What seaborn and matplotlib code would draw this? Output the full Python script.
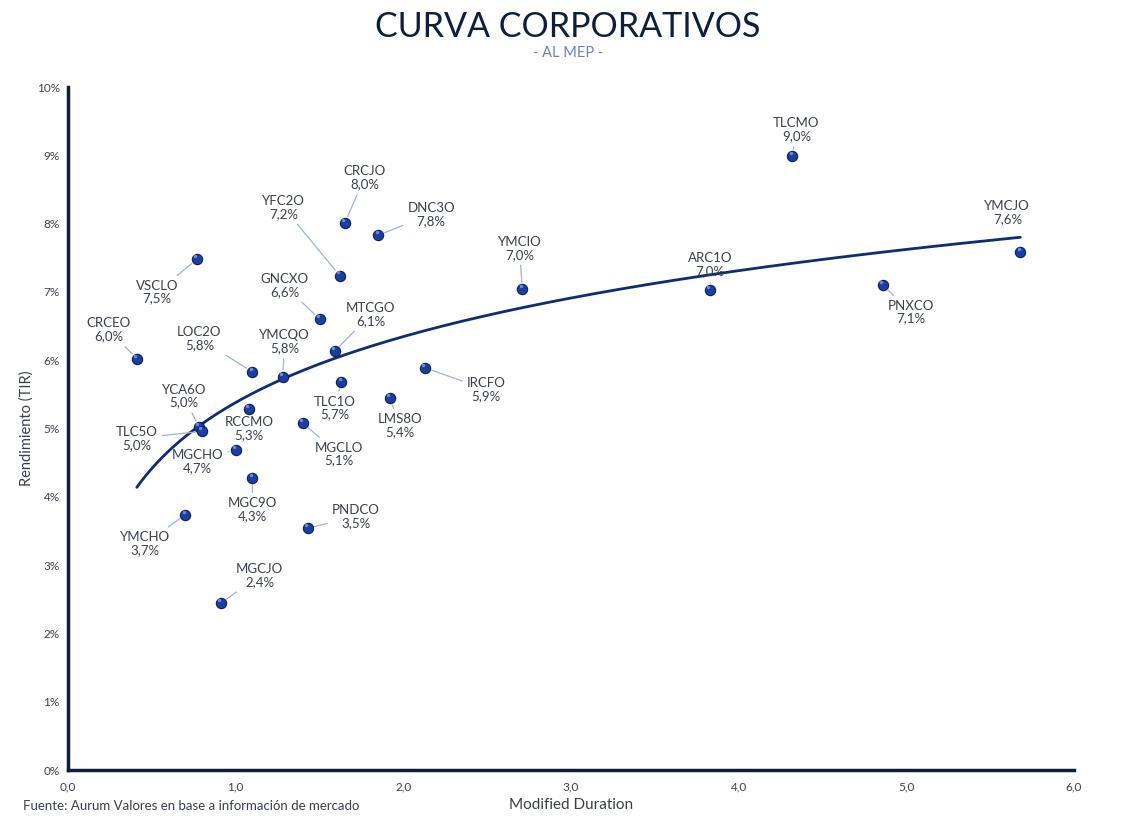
import numpy as np
import pandas as pd
import matplotlib
matplotlib.use("Agg")
import matplotlib.pyplot as plt
import seaborn as sns

# ---- data ----
names = ["TLCMO", "YMCJO", "ARC1O", "PNXCO", "YMCIO", "CRCJO", "DNC3O", "YFC2O",
         "VSCLO", "GNCXO", "MTCGO", "CRCEO", "LOC2O", "YMCQO", "TLC1O", "IRCFO",
         "LMS8O", "RCCMO", "MGCLO", "YCA6O", "TLC5O", "MGCHO", "MGC9O", "YMCHO",
         "PNDCO", "MGCJO"]
duration = [4.32, 5.68, 3.83, 4.86, 2.71, 1.65, 1.85, 1.62,
            0.77, 1.50, 1.59, 0.41, 1.10, 1.28, 1.63, 2.13,
            1.92, 1.08, 1.40, 0.78, 0.80, 1.00, 1.10, 0.70,
            1.43, 0.91]
yields = [8.99, 7.58, 7.03, 7.10, 7.04, 8.01, 7.83, 7.24,
          7.48, 6.60, 6.13, 6.02, 5.83, 5.76, 5.68, 5.89,
          5.44, 5.29, 5.08, 5.02, 4.96, 4.69, 4.28, 3.74,
          3.54, 2.44]
# label offsets (pixels, label centre relative to point)
label_dx = [4, -13, 0, 28, -3, 20, 53, -56,
            -40, -35, 36, -28, -53, 2, -7, 61,
            10, 0, 36, -15, -65, -38, 0, -40,
            48, 39]
label_dy = [26, 40, 25, -27, 41, 45, 21, 68,
            -33, 34, 37, 29, 33, 35, -26, -22,
            -27, -20, -31, 31, -7, -12, -32, -29,
            12, 28]
draw_leader = [True, False, True, True, True, True, True, True,
               True, True, True, True, True, True, True, True,
               True, False, True, True, True, True, True, True,
               True, True]

x_ticks = [0, 1, 2, 3, 4, 5, 6]
x_ticklabels = ["0,0", "1,0", "2,0", "3,0", "4,0", "5,0", "6,0"]
y_ticks = list(range(0, 11))
y_ticklabels = [f"{v}%" for v in y_ticks]

df = pd.DataFrame({"name": names, "dur": duration, "tir": yields})

# logarithmic trendline fitted on the data
a, b = np.polyfit(np.log(df["dur"]), df["tir"], 1)
xs = np.linspace(df["dur"].min(), df["dur"].max(), 200)
trend = pd.DataFrame({"dur": xs, "tir": a * np.log(xs) + b})

# ---- style ----
sns.set_theme(style="white")
plt.rcParams["font.family"] = ["Lato", "DejaVu Sans"]

navy = "#0d1f3c"
fig = plt.figure(figsize=(11.36, 8.24), dpi=100)
ax = fig.add_axes([0.0599, 0.0655, 0.8855, 0.8289])

sns.lineplot(data=trend, x="dur", y="tir", ax=ax, color="#0f2d72", lw=2.0, zorder=2)
sns.scatterplot(data=df, x="dur", y="tir", ax=ax, s=55, color="#1c3f9f",
                edgecolor="#0a1f5e", linewidth=0.8, zorder=4)
# small highlight for a glossy look
ax.scatter(df["dur"] - 0.01, df["tir"] + 0.045, s=6, color="#6f8ad6", zorder=5, linewidths=0)

for i, n in enumerate(names):
    txt = f"{n}\n{yields[i]:.1f}%".replace(".", ",")
    ap = None
    if draw_leader[i]:
        ap = dict(arrowstyle="-", color="#9fb2dc", lw=0.9, shrinkA=1, shrinkB=5)
    ax.annotate(txt, xy=(duration[i], yields[i]), xytext=(label_dx[i], label_dy[i]),
                textcoords="offset pixels", ha="center", va="center",
                fontsize=9.5, color="#3a3f4a", linespacing=1.1,
                arrowprops=ap, zorder=6)

ax.set_xlim(0, 6)
ax.set_ylim(0, 10)
ax.set_xticks(x_ticks)
ax.set_xticklabels(x_ticklabels)
ax.set_yticks(y_ticks)
ax.set_yticklabels(y_ticklabels)
ax.tick_params(axis="both", direction="in", length=5, width=1.5, color=navy,
               labelsize=8.5, labelcolor="#3a3f4a", pad=6)
ax.tick_params(axis="x", pad=8)
for s in ["top", "right"]:
    ax.spines[s].set_visible(False)
for s in ["left", "bottom"]:
    ax.spines[s].set_color(navy)
    ax.spines[s].set_linewidth(2.5)
ax.grid(False)
ax.set_xlabel("Modified Duration", fontsize=11, color="#3a3f4a", labelpad=4)
ax.set_ylabel("Rendimiento (TIR)", fontsize=10.5, color="#3a3f4a", labelpad=2)

fig.text(0.5, 0.967, "CURVA CORPORATIVOS", ha="center", va="center",
         fontsize=24.5, color=navy, fontweight="normal")
fig.text(0.5, 0.936, "- AL MEP -", ha="center", va="center",
         fontsize=10.5, color="#6f7fbf")
fig.text(0.02, 0.022, "Fuente: Aurum Valores en base a información de mercado",
         ha="left", va="center", fontsize=9.5, color="#3a3f4a")

fig.savefig("out.png", dpi=100)
